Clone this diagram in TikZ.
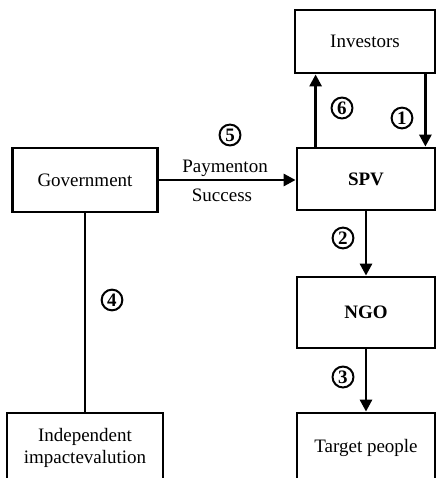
\documentclass[tikz,border=0pt]{standalone}
\usepackage{fontspec}
\setmainfont{Liberation Serif}
\usetikzlibrary{arrows.meta}
\tikzset{
  box/.style={draw, line width=1.4pt, inner sep=0pt, align=center, font=\fontsize{9.5}{11}\selectfont},
  arr/.style={line width=1.4pt, -{Triangle[length=6pt,width=6pt]}},
  num/.style={circle, draw, line width=1pt, inner sep=0.9pt, font=\fontsize{9.5}{10}\selectfont\bfseries},
  lbl/.style={font=\fontsize{9.5}{11}\selectfont}
}
\begin{document}
\begin{tikzpicture}[x=0.5pt, y=-0.5pt]
\useasboundingbox (0,0) rectangle (437,478);
\clip (0,0) rectangle (437,478);

\node[box, minimum width=70pt, minimum height=31.5pt] (inv) at (365,41.5) {Investors};
\node[box, minimum width=69pt, minimum height=31pt, font=\fontsize{9.5}{11}\selectfont\bfseries] (spv) at (366,179) {SPV};
\node[box, minimum width=72.5pt, minimum height=32pt] (gov) at (85,180) {Government};
\node[box, minimum width=69pt, minimum height=35.5pt, font=\fontsize{9.5}{11}\selectfont\bfseries] (ngo) at (366,312.5) {NGO};
\node[box, minimum width=69pt, minimum height=35pt] (tgt) at (366,448) {Target people};
\node[box, minimum width=78pt, minimum height=35pt] (ind) at (85,448) {Independent\\impactevalution};

\draw[arr] ([xshift=10pt]spv.north west) -- ([xshift=10pt]spv.north west |- inv.south);
\draw[arr] ([xshift=-5.5pt]inv.south east) -- ([xshift=-5.5pt]inv.south east |- spv.north);
\draw[arr] (gov.east) -- (gov.east -| spv.west);
\draw[arr] (spv) -- (ngo);
\draw[arr] (ngo) -- (tgt);
\draw[line width=1.4pt] (gov) -- (ind);

\node[num] (n6) at (342,108) {6};
\node[num] (n1) at (402,118) {1};
\node[num] (n5) at (230,135) {5};
\node[lbl] (pay) at (225,168) {Paymenton};
\node[lbl] (suc) at (222,195) {Success};
\node[num] (n2) at (343,238) {2};
\node[num] (n3) at (343,377) {3};
\node[num] (n4) at (112,300) {4};
\end{tikzpicture}
\end{document}
